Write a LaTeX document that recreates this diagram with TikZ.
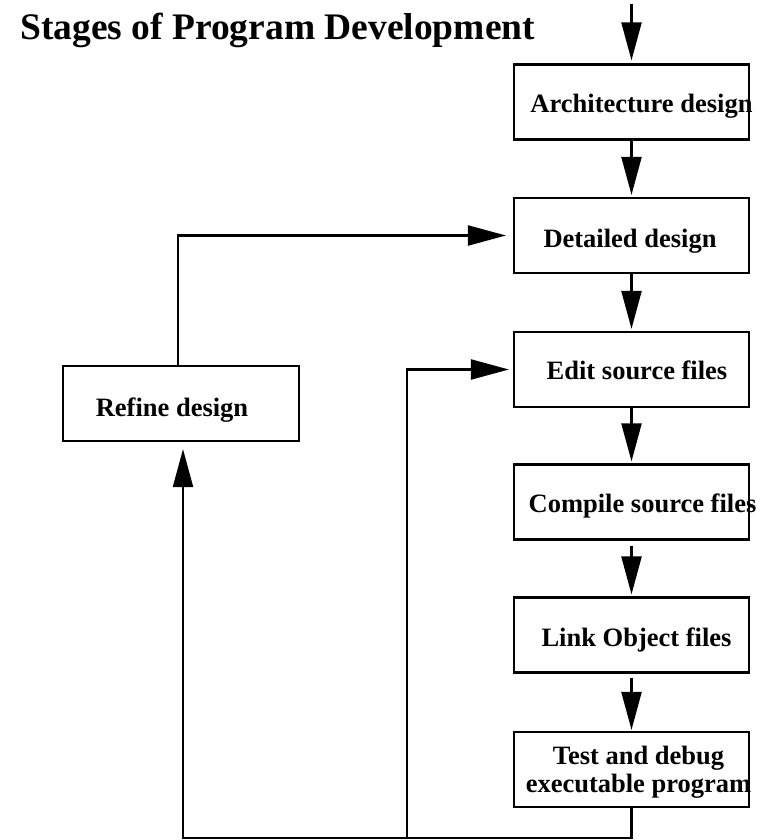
\documentclass[tikz,border=0pt]{standalone}
\usepackage{fontspec}
\setmainfont{Liberation Serif}
\usetikzlibrary{arrows.meta}

\tikzset{
  stagebox/.style={draw, line width=2.2pt, minimum width=235pt, minimum height=75pt, inner sep=0pt},
  stagetext/.style={anchor=base, inner sep=0pt, font=\fontsize{26.5}{31}\selectfont\bfseries, align=center},
  wire/.style={line width=2.2pt},
  flow/.style={wire, -{Triangle[length=38pt, width=20pt]}}
}

\begin{document}
\begin{tikzpicture}[x=1pt, y=-1pt]
  \useasboundingbox (0,0) rectangle (760,840);

  % heading
  \node[anchor=base west, inner sep=0pt, font=\fontsize{37.5}{42}\selectfont\bfseries] (title) at (20,40) {Stages of Program Development};

  % main chain of stages
  \node[stagebox] (arch)    at (631.5,102)   {};
  \node[stagebox] (detail)  at (631.5,235.5) {};
  \node[stagebox] (edit)    at (631.5,369.5) {};
  \node[stagebox] (compile) at (631.5,502)   {};
  \node[stagebox] (link)    at (631.5,635)   {};
  \node[stagebox] (test)    at (631.5,769.5) {};
  \node[stagebox, minimum width=236pt] (refine) at (181,403.5) {};

  % stage captions
  \node[stagetext] (archT)    at (641.5,113) {Architecture design};
  \node[stagetext] (detailT)  at (630,247)   {Detailed design};
  \node[stagetext] (editT)    at (637,379)   {Edit source files};
  \node[stagetext] (compileT) at (642.5,512) {Compile source files};
  \node[stagetext] (linkT)    at (636.5,646) {Link Object files};
  \node[stagetext] (testT)    at (638.5,764) {Test and debug};
  \node[stagetext] (testT2)   at (638.5,792) {executable program};
  \node[stagetext] (refineT)  at (172,416)   {Refine design};

  % forward flow
  \coordinate (entry) at (631.5,4);
  \draw[flow, shorten >=3pt] (entry) -- (arch.north);
  \draw[flow, shorten >=2pt] (arch.south) -- (detail.north);
  \draw[flow, shorten >=2pt] (detail.south) -- (edit.north);
  \draw[flow, shorten >=2pt] (edit.south) -- (compile.north);
  \draw[flow, shorten <=5pt, shorten >=2pt] (compile.south) -- (link.north);
  \draw[flow, shorten <=4pt, shorten >=1pt] (link.south) -- (test.north);

  % feedback loops
  \coordinate (bottomleft) at (183,838);
  \coordinate (split) at (407,838);
  \draw[flow, shorten >=7pt] (test.south) |- (bottomleft) -- ([xshift=2pt]refine.south);
  \draw[flow, shorten >=4pt] (split) |- (edit.west);
  \draw[flow, shorten >=7pt] ([xshift=-3pt]refine.north) |- (detail.west);
\end{tikzpicture}
\end{document}
